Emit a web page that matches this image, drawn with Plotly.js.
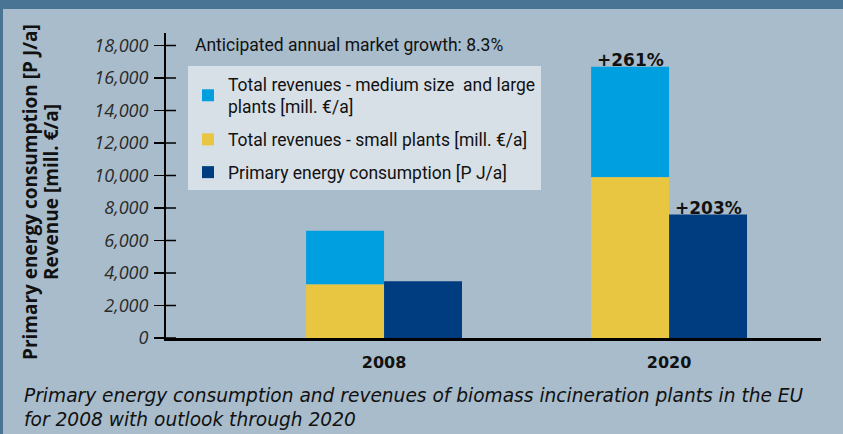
<!DOCTYPE html>
<html>
<head>
<meta charset="utf-8">
<script src="https://cdn.plot.ly/plotly-3.0.1.min.js"></script>
<style>
  html, body { margin: 0; padding: 0; background: #4a7494; width: 843px; height: 434px; overflow: hidden; }
  #chart { position: absolute; left: 3px; top: 9px; width: 840px; height: 425px; }
</style>
</head>
<body>
<div id="chart"></div>
<script>
// ---- data ----
const years = ['2008', '2020'];
const smallPlants = [3300, 9900];        // Total revenues - small plants [mill. €/a]
const mediumLarge = [3300, 6800];        // Total revenues - medium size and large plants [mill. €/a]
const energy = [3500, 7600];             // Primary energy consumption [P J/a]
const growthLabels = ['+261%', '+203%'];
const yTicks = [0, 2000, 4000, 6000, 8000, 10000, 12000, 14000, 16000, 18000];
const yTickText = ['0', '2,000', '4,000', '6,000', '8,000', '10,000', '12,000', '14,000', '16,000', '18,000'];

const C_LIGHT = '#009fe0', C_YEL = '#e8c641', C_DARK = '#003d80';
const NARROW = '"Roboto", sans-serif';
const HUM = '"Open Sans", "Noto Sans", sans-serif';
const WIDE = '"DejaVu Sans", sans-serif';

const revTotal = smallPlants.map((v, i) => v + mediumLarge[i]);

const traces = [
  { type: 'bar', name: 'Total revenues - medium size\u00a0 and large<br>plants [mill. €/a]', legendgroup: 'a',
    x: years, y: mediumLarge, base: smallPlants, offsetgroup: 'rev',
    marker: { color: C_LIGHT, line: { width: 0 } }, hoverinfo: 'skip' },
  { type: 'bar', name: 'Total revenues - small plants [mill. €/a]', legendgroup: 'b',
    x: years, y: smallPlants, offsetgroup: 'rev',
    marker: { color: C_YEL, line: { width: 0 } }, hoverinfo: 'skip' },
  { type: 'bar', name: 'Primary energy consumption [P J/a]', legendgroup: 'c',
    x: years, y: energy, offsetgroup: 'en',
    marker: { color: C_DARK, line: { width: 0 } }, hoverinfo: 'skip' }
];

const half = 0.137;
const annotations = [
  { xref: 'paper', yref: 'paper', x: (193 - 166) / 655, y: 1 - (45 - 33) / 305, xanchor: 'left', yanchor: 'middle',
    text: 'Anticipated annual market growth: 8.3%', showarrow: false,
    font: { family: NARROW, size: 17.5, color: '#111' } },
  { xref: 'x', yref: 'y', x: 1 - half, y: revTotal[1], yanchor: 'bottom', xanchor: 'center', yshift: -5,
    text: growthLabels[0], showarrow: false, font: { family: WIDE, size: 17, color: '#111', weight: 'bold' } },
  { xref: 'x', yref: 'y', x: 1 + half, y: energy[1], yanchor: 'bottom', xanchor: 'center', yshift: -5,
    text: growthLabels[1], showarrow: false, font: { family: WIDE, size: 17, color: '#111', weight: 'bold' } },
  { xref: 'paper', yref: 'paper', x: (30 - 166) / 655, y: 1 - (192 - 33) / 305, xanchor: 'center', yanchor: 'middle',
    textangle: -90, text: 'Primary energy consumption [P J/a]', showarrow: false,
    font: { family: HUM, size: 19, color: '#111', weight: 'bold' } },
  { xref: 'paper', yref: 'paper', x: (51 - 166) / 655, y: 1 - (192 - 33) / 305, xanchor: 'center', yanchor: 'middle',
    textangle: -90, text: 'Revenue [mill. €/a]', showarrow: false,
    font: { family: HUM, size: 19, color: '#111', weight: 'bold' } },
  { xref: 'paper', yref: 'paper', x: (22 - 166) / 655, y: 1 - (407 - 33) / 305, xanchor: 'left', yanchor: 'middle', align: 'left',
    text: 'Primary energy consumption and revenues of biomass incineration plants in the EU<br>for 2008 with outlook through 2020',
    showarrow: false, font: { family: WIDE, size: 18.6, color: '#111', style: 'italic' } }
];

// crossing tick marks on the y axis (inner half), one per tick value
const shapes = yTicks.map(v => ({
  type: 'line', xref: 'paper', yref: 'y', x0: 0, x1: 10 / 655, y0: v, y1: v,
  line: { color: '#000', width: 1.5 }
}));

const layout = {
  width: 840, height: 425,
  margin: { l: 163, r: 22, t: 24, b: 96, pad: 0 },
  paper_bgcolor: '#a8bccb', plot_bgcolor: '#a8bccb',
  barmode: 'group', bargap: 0.453, bargroupgap: 0,
  showlegend: true,
  legend: { x: (188 - 166) / 655, y: 1 - (66 - 33) / 305, xanchor: 'left', yanchor: 'top',
    bgcolor: '#d8e0e7', borderwidth: 0, traceorder: 'grouped', tracegroupgap: 7,
    font: { family: NARROW, size: 17.5, color: '#111' } },
  xaxis: { type: 'category', range: [-0.765, 1.533], showline: true, linecolor: '#000', linewidth: 2.5,
    ticks: '', showgrid: false, zeroline: false, ticklabelstandoff: 8,
    tickfont: { family: WIDE, size: 16, color: '#111', weight: 'bold' } },
  yaxis: { range: [0, 18770], showline: true, linecolor: '#000', linewidth: 2, showgrid: false, zeroline: false,
    tickmode: 'array', tickvals: yTicks, ticktext: yTickText, ticks: 'outside', ticklen: 10, tickwidth: 1.5, tickcolor: '#000',
    ticklabelstandoff: 2,
    tickfont: { family: HUM, size: 18, color: '#2a2a2a', style: 'italic' } },
  shapes: shapes,
  annotations: annotations
};

Plotly.newPlot('chart', traces, layout, { staticPlot: true, displayModeBar: false });
</script>
</body>
</html>
